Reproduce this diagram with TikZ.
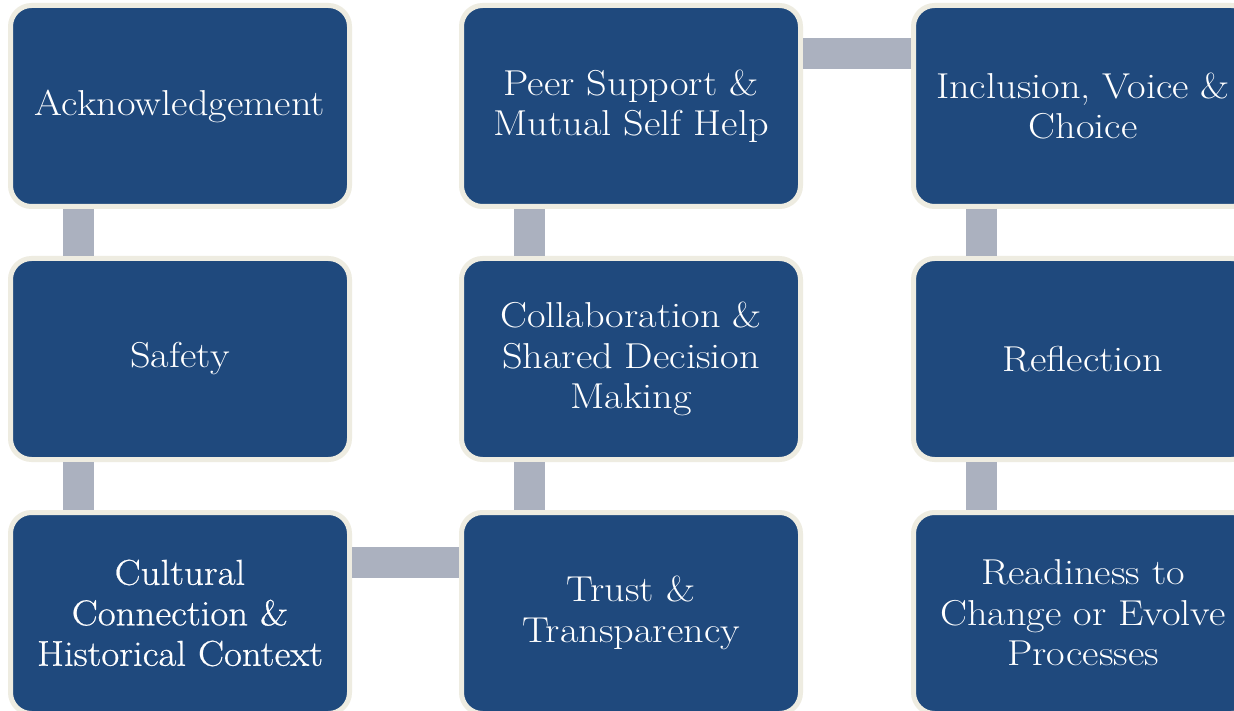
\documentclass[tikz,border=0pt]{standalone}
\usepackage{fontspec}
\usepackage{xcolor}
\definecolor{boxfill}{RGB}{31,73,125}
\definecolor{boxline}{RGB}{238,236,225}
\definecolor{connc}{RGB}{171,177,191}
\newfontfamily\boxfont{Latin Modern Roman}[FakeStretch=1.12]
\newfontfamily\boxfontb{Latin Modern Roman}[FakeStretch=1.08,FakeBold=0.6]
\tikzset{
  stepbox/.style={draw=boxline, fill=boxfill, line width=5pt, rounded corners=21pt,
    minimum width=339pt, minimum height=201pt, inner sep=0pt, text=white,
    align=center, text width=336pt, font=\boxfont\fontsize{36pt}{40.5pt}\selectfont},
  conn/.style={draw=connc, line width=31pt}
}
\begin{document}
\begin{tikzpicture}[x=1pt,y=-1pt]
\useasboundingbox (0,0) rectangle (1234,711);
\clip (0,0) rectangle (1234,711);
\fill[white] (0,0) rectangle (1234,711);
% boxes
\node[stepbox] (A) at (180,106) {Acknowledgement};
\node[stepbox] (S) at (180,359) {Safety};
\node[stepbox, font=\boxfontb\fontsize{36pt}{40.5pt}\selectfont] (C) at (180,613) {Cultural\\Connection \&\\Historical Context};
\node[stepbox] (T) at (631,613) {Trust \&\\Transparency};
\node[stepbox] (D) at (631,359) {Collaboration \&\\Shared Decision\\Making};
\node[stepbox] (P) at (631,106) {Peer Support \&\\Mutual Self Help};
\node[stepbox] (I) at (1083,106) {Inclusion, Voice \&\\Choice};
\node[stepbox] (R) at (1083,359) {Reflection};
\node[stepbox] (E) at (1083,613) {Readiness to\\Change or Evolve\\Processes};
% connectors
\draw[conn] ([xshift=70.5pt]A.south west) -- ([xshift=70.5pt]S.north west);
\draw[conn] ([xshift=70.5pt]S.south west) -- ([xshift=70.5pt]C.north west);
\draw[conn] ([yshift=-52.5pt]C.north east) -- ([yshift=-52.5pt]T.north west);
\draw[conn] ([xshift=70.5pt]T.north west) -- ([xshift=70.5pt]D.south west);
\draw[conn] ([xshift=70.5pt]D.north west) -- ([xshift=70.5pt]P.south west);
\draw[conn] ([yshift=-50.5pt]P.north east) -- ([yshift=-50.5pt]I.north west);
\draw[conn] ([xshift=70.5pt]I.south west) -- ([xshift=70.5pt]R.north west);
\draw[conn] ([xshift=70.5pt]R.south west) -- ([xshift=70.5pt]E.north west);
\end{tikzpicture}
\end{document}
